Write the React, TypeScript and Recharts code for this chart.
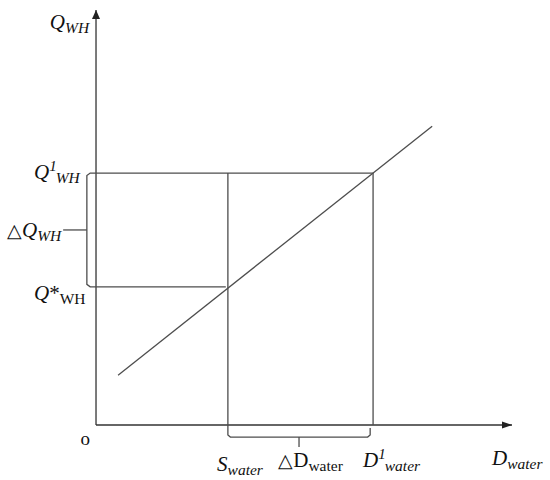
import { LineChart, Line, XAxis, YAxis, ReferenceDot } from 'recharts';

// diagram levels, in axis units (origin = 0,0, axes run to 100)
const AXIS_END = 100;
const Q_ONE = 60.7;
const Q_STAR = 33.3;
const S_WATER = 31.7;
const D_ONE = 66.6;

// supply line end points
const SUPPLY_X = [5.3, 80.8];
const SUPPLY_Y = [12, 72];

// braces
const LEFT_BRACE_X = -2.2;
const LEFT_TICK_X = -7.9;
const BOTTOM_BRACE_Y = -2.9;
const BOTTOM_TICK_Y = -5.3;
const BOTTOM_BRACE_END = 65.9;

const LINE_COLOR = '#4d4d4d';
const FONT = '"Liberation Serif", "Times New Roman", serif';

type Pt = { x: number; y: number };

const xAxisLine: Pt[] = [{ x: 0, y: 0 }, { x: AXIS_END, y: 0 }];
const yAxisLine: Pt[] = [{ x: 0, y: 0 }, { x: 0, y: AXIS_END }];
const supply: Pt[] = SUPPLY_X.map((x, i) => ({ x, y: SUPPLY_Y[i] }));

const midQ = (Q_ONE + Q_STAR) / 2;
const leftBrace: Pt[] = [
  { x: D_ONE, y: Q_ONE },
  { x: LEFT_BRACE_X + 0.8, y: Q_ONE },
  { x: LEFT_BRACE_X, y: Q_ONE - 0.6 },
  { x: LEFT_BRACE_X, y: Q_STAR + 0.6 },
  { x: LEFT_BRACE_X + 0.8, y: Q_STAR },
  { x: S_WATER - 0.5, y: Q_STAR },
];
const leftTick: Pt[] = [{ x: LEFT_BRACE_X, y: midQ }, { x: LEFT_TICK_X, y: midQ }];

const midD = (S_WATER + BOTTOM_BRACE_END) / 2;
const bottomBrace: Pt[] = [
  { x: S_WATER, y: Q_ONE },
  { x: S_WATER, y: BOTTOM_BRACE_Y + 0.5 },
  { x: S_WATER + 0.6, y: BOTTOM_BRACE_Y },
  { x: BOTTOM_BRACE_END - 0.6, y: BOTTOM_BRACE_Y },
  { x: BOTTOM_BRACE_END, y: BOTTOM_BRACE_Y + 0.5 },
  { x: BOTTOM_BRACE_END, y: -0.7 },
];
const bottomTick: Pt[] = [{ x: midD, y: BOTTOM_BRACE_Y }, { x: midD, y: BOTTOM_TICK_Y }];
const dOneLine: Pt[] = [{ x: D_ONE, y: Q_ONE }, { x: D_ONE, y: 0 }];

type Part = { t: string; italic?: boolean; pos?: 'sup' | 'sub' };
type Note = { x: number; y: number; parts: Part[]; anchor?: 'start' | 'middle' };

const NOTES: Note[] = [
  { x: -11.1, y: 95.4, parts: [{ t: 'Q', italic: true }, { t: 'WH', italic: true, pos: 'sub' }] },
  { x: -14.9, y: 59.3, parts: [{ t: 'Q', italic: true }, { t: '1', italic: true, pos: 'sup' }, { t: 'WH', italic: true, pos: 'sub' }] },
  { x: -21.4, y: 45.3, parts: [{ t: '△' }, { t: 'Q', italic: true }, { t: 'WH', italic: true, pos: 'sub' }] },
  { x: -14.9, y: 30.1, parts: [{ t: 'Q', italic: true }, { t: '*' }, { t: 'WH', pos: 'sub' }] },
  { x: -2.6, y: -4.8, parts: [{ t: 'o' }], anchor: 'middle' },
  { x: 29.1, y: -11.1, parts: [{ t: 'S', italic: true }, { t: 'water', italic: true, pos: 'sub' }] },
  { x: 43.8, y: -10.1, parts: [{ t: '△' }, { t: 'D' }, { t: 'water', pos: 'sub' }] },
  { x: 64.2, y: -10.1, parts: [{ t: 'D', italic: true }, { t: '1', italic: true, pos: 'sup' }, { t: 'water', italic: true, pos: 'sub' }] },
  { x: 95.2, y: -9.6, parts: [{ t: 'D', italic: true }, { t: 'water', italic: true, pos: 'sub' }] },
];

function RichText({ cx, cy, parts, anchor }: { cx: number; cy: number; parts: Part[]; anchor?: string }) {
  let offset = 0;
  return (
    <text x={cx} y={cy} fontFamily={FONT} fontSize={21} fill="#111" textAnchor={anchor || 'start'}>
      {parts.map((p, i) => {
        const target = p.pos === 'sup' ? -8 : p.pos === 'sub' ? 4 : 0;
        const dy = target - offset;
        offset = target;
        const dx = p.pos === 'sub' && i > 0 && parts[i - 1].pos === 'sup' ? -1 : 0;
        return (
          <tspan
            key={i}
            dy={dy}
            dx={dx}
            fontStyle={p.italic ? 'italic' : 'normal'}
            fontSize={p.pos === 'sup' ? 15 : p.pos === 'sub' ? 15.5 : p.t === '△' ? 19 : p.t === 'o' ? 19 : 21}
          >
            {p.t}
          </tspan>
        );
      })}
    </text>
  );
}

const arrowX = (p: any) =>
  p.index === 1 ? (
    <path key={p.index} d={`M${p.cx},${p.cy} l-10,-3.5 l0,7 z`} fill="#222" />
  ) : (
    <g key={p.index} />
  );
const arrowY = (p: any) =>
  p.index === 1 ? (
    <path key={p.index} d={`M${p.cx},${p.cy} l-4,9 l8,0 z`} fill="#222" />
  ) : (
    <g key={p.index} />
  );

export default function App() {
  const seg = (key: string, data: Pt[], dot: any = false, color = LINE_COLOR) => (
    <Line
      key={key}
      data={data}
      dataKey="y"
      type="linear"
      stroke={color}
      strokeWidth={1.3}
      dot={dot}
      activeDot={false}
      isAnimationActive={false}
    />
  );

  return (
    <div style={{ position: 'absolute', left: 0, top: 0, background: '#fff' }}>
      <LineChart width={550} height={480} margin={{ top: 0, right: 0, bottom: 0, left: 0 }}>
        <XAxis type="number" dataKey="x" domain={[-23.08, 109.13]} allowDataOverflow hide />
        <YAxis type="number" domain={[-13.25, 102.41]} allowDataOverflow hide />
        {seg('xaxis', xAxisLine, arrowX, '#333')}
        {seg('yaxis', yAxisLine, arrowY, '#333')}
        {seg('supply', supply)}
        {seg('leftBrace', leftBrace)}
        {seg('leftTick', leftTick)}
        {seg('bottomBrace', bottomBrace)}
        {seg('bottomTick', bottomTick)}
        {seg('dOne', dOneLine)}
        {NOTES.map((n, i) => (
          <ReferenceDot
            key={i}
            x={n.x}
            y={n.y}
            r={1}
            ifOverflow="visible"
            shape={(p: any) => <RichText cx={p.cx} cy={p.cy} parts={n.parts} anchor={n.anchor} />}
          />
        ))}
      </LineChart>
    </div>
  );
}
